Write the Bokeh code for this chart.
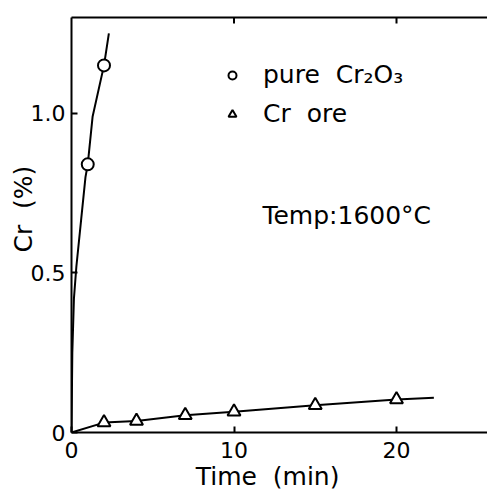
from bokeh.plotting import figure
from bokeh.models import Range1d, FixedTicker, LinearAxis, Legend, LegendItem, Label
from bokeh.embed import file_html
from bokeh.resources import INLINE

# --- data ---
pure_t = [1, 2]
pure_cr = [0.84, 1.15]
pure_curve_t = [0, 0.05, 0.15, 0.3, 0.6, 0.86, 1.0, 1.3, 2.0, 2.3]
pure_curve_cr = [0, 0.25, 0.42, 0.52, 0.67, 0.80, 0.84, 0.99, 1.15, 1.25]

ore_t = [2, 4, 7, 10, 15, 20]
ore_cr = [0.031, 0.036, 0.054, 0.065, 0.085, 0.103]
ore_curve_t = [0, 2, 4, 7, 10, 15, 20, 22.3]
ore_curve_cr = [0, 0.031, 0.036, 0.054, 0.065, 0.085, 0.103, 0.109]

x_ticks = [0, 10, 20]
top_ticks = [10, 20]
y_ticks = [0, 0.5, 1.0]
y_tick_labels = {0: "0", 0.5: "0.5", 1: "1.0"}

FONT = "DejaVu Sans"
NB = "\u00a0"

p = figure(width=487, height=493, output_backend="svg", toolbar_location=None,
           x_range=Range1d(0, 25.6), y_range=Range1d(0, 1.3),
           min_border_left=71, min_border_top=17, min_border_bottom=60,
           min_border_right=0)
p.grid.visible = False
p.outline_line_color = None
p.background_fill_color = "white"
p.border_fill_color = "white"

for ax in (p.xaxis[0], p.yaxis[0]):
    ax.axis_line_width = 2
    ax.axis_line_color = "black"
    ax.major_tick_line_width = 2
    ax.major_tick_in = 6
    ax.major_tick_out = 0
    ax.minor_tick_line_color = None
    ax.major_label_text_font = FONT
    ax.major_label_text_font_size = "22px"
    ax.major_label_text_color = "black"
    ax.axis_label_text_font = FONT
    ax.axis_label_text_font_size = "25px"
    ax.axis_label_text_font_style = "normal"
    ax.axis_label_text_color = "black"

p.xaxis[0].ticker = FixedTicker(ticks=x_ticks)
p.yaxis[0].ticker = FixedTicker(ticks=y_ticks)
p.yaxis[0].major_label_overrides = y_tick_labels
p.xaxis[0].major_label_standoff = 9
p.yaxis[0].major_label_standoff = 6
# titles (padding with no-break spaces to shift them off-centre like the reference)
p.xaxis[0].axis_label = "Time" + NB + " (min)" + NB * 3
p.yaxis[0].axis_label = NB * 4 + "Cr" + NB + " (%)"
p.xaxis[0].axis_label_standoff = 1
p.yaxis[0].axis_label_standoff = -10

# top frame line (no labels)
top = LinearAxis(ticker=FixedTicker(ticks=[]), axis_line_width=2,
                 axis_line_color="black", minor_tick_line_color=None)
p.add_layout(top, "above")
# small inward ticks on the top edge
p.segment(x0=top_ticks, y0=[1.3] * len(top_ticks), x1=top_ticks,
          y1=[1.3 - 0.019] * len(top_ticks), line_color="black", line_width=2)

p.line(pure_curve_t, pure_curve_cr, line_color="black", line_width=2)
p.line(ore_curve_t, ore_curve_cr, line_color="black", line_width=2)

r_pure = p.scatter(pure_t, pure_cr, marker="circle", size=12, line_color="black",
                   line_width=2, fill_color="white")
r_ore = p.scatter(ore_t, ore_cr, marker="triangle", size=13, line_color="black",
                  line_width=2, fill_color="white")

legend = Legend(items=[LegendItem(label="pure" + NB + " Cr₂O₃", renderers=[r_pure]),
                       LegendItem(label="Cr" + NB + " ore", renderers=[r_ore])],
                location=(151, 304), padding=0, margin=0, spacing=10,
                glyph_width=20, glyph_height=28, label_height=28,
                label_standoff=21, border_line_alpha=0, background_fill_alpha=0,
                label_text_font=FONT, label_text_font_size="25px",
                label_text_color="black")
p.add_layout(legend)

p.add_layout(Label(x=11.75, y=0.68, text="Temp:1600°C", text_font=FONT,
                   text_font_size="25px", text_color="black",
                   text_baseline="alphabetic"))

open("out.html", "w").write(file_html(p, INLINE))
